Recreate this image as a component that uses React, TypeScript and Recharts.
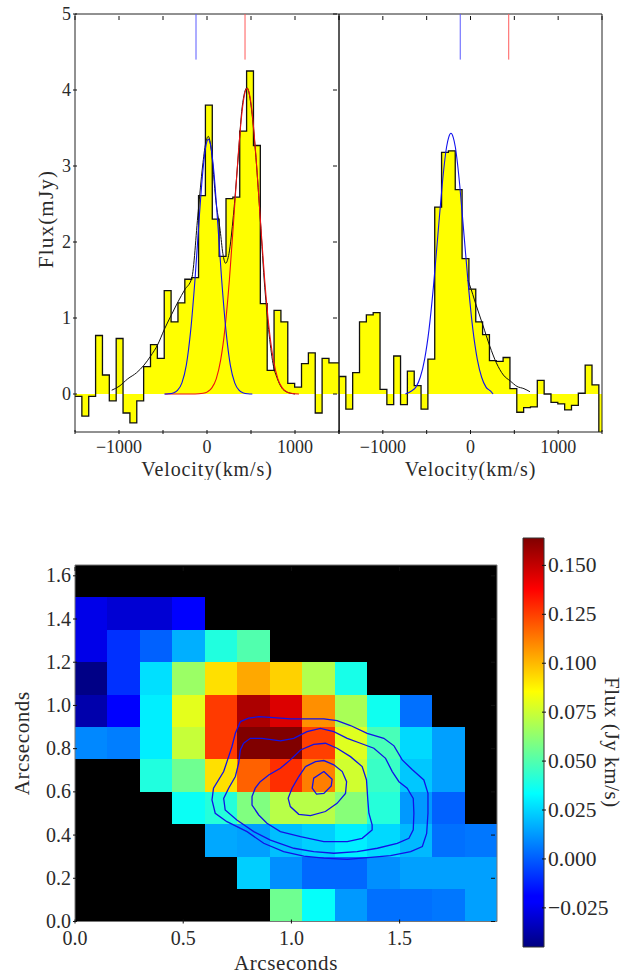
import { ComposedChart, Area, Line, XAxis, YAxis, ReferenceArea } from 'recharts'

const serif = '"Liberation Serif", serif'
const textColor = '#2a2a2a'

// bin left edges shared by both spectra (last entry closes the final bin)
const binEdges = [
  -1500, -1422, -1344, -1266, -1188, -1110, -1032, -954, -876, -798, -720, -642, -564, -486, -408, -330, -252, -174,
  -96, -18, 60, 138, 216, 294, 372, 450, 528, 606, 684, 762, 840, 918, 996, 1074, 1152, 1230, 1308, 1386, 1464, 1500,
]
const leftFlux = [
  -0.03, -0.29, -0.03, 0.77, 0.25, -0.09, 0.73, -0.25, -0.38, -0.09, 0.36, 0.65, 0.47, 1.36, 0.95, 1.2, 1.51, 1.53,
  2.61, 3.8, 2.3, 1.81, 2.57, 2.59, 3.46, 4.25, 3.27, 1.19, 0.31, 1.1, 0.95, 0.14, 0.09, 0.4, 0.54, -0.25, 0.47, 0.41,
  0.41, 0.41,
]
const rightFlux = [
  0.23, -0.2, 0.28, 0.95, 1.04, 1.07, 0.06, -0.14, 0.5, -0.14, 0.3, 0.11, -0.2, 0.46, 2.46, 3.18, 3.2, 2.69, 1.78,
  1.38, 0.95, 0.78, 0.44, 0.43, 0.48, 0.07, -0.24, -0.18, -0.17, 0.18, 0, -0.11, -0.13, -0.21, -0.15, 0.01, 0.38, 0.12,
  -0.6, -0.6,
]

const leftBins = binEdges.map((v, i) => ({ v, flux: leftFlux[i] }))
// the right spectrum comes up from below the axis at its first edge
const rightBins = [{ v: -1500, flux: -0.6 }, ...binEdges.map((v, i) => ({ v, flux: rightFlux[i] }))]

const toPoints = (list: number[][]) => list.map(([v, flux]) => ({ v, flux }))

const leftBlue = toPoints([
  [-485, 0], [-435, 0.003], [-385, 0.013], [-335, 0.048], [-285, 0.147], [-235, 0.38], [-185, 0.84], [-135, 1.53],
  [-85, 2.37], [-60, 2.76], [-35, 3.07], [-10, 3.28], [15, 3.35], [40, 3.28], [65, 3.07], [90, 2.76], [115, 2.37],
  [165, 1.53], [215, 0.84], [265, 0.38], [315, 0.147], [365, 0.048], [415, 0.013], [465, 0.003], [515, 0],
])
const leftRed = toPoints([
  [-477, 0], [-135, 0], [-45, 0.009], [5, 0.028], [55, 0.08], [105, 0.2], [155, 0.445], [205, 0.87], [255, 1.51],
  [305, 2.32], [355, 3.15], [380, 3.5], [405, 3.78], [430, 3.96], [455, 4.02], [480, 3.96], [505, 3.78], [530, 3.5],
  [555, 3.15], [605, 2.32], [655, 1.51], [705, 0.87], [755, 0.445], [805, 0.2], [855, 0.08], [905, 0.028], [955, 0.009],
  [1045, 0],
])
const leftBlack = toPoints([
  [-1083, 0.05], [-1000, 0.1], [-900, 0.2], [-800, 0.28], [-716, 0.38], [-640, 0.5], [-560, 0.65], [-485, 0.85],
  [-405, 1.04], [-326, 1.22], [-254, 1.37], [-174, 1.52], [-100, 2.4], [-50, 3.0], [-15, 3.3], [15, 3.39], [50, 3.2],
  [100, 2.55], [150, 2.15], [180, 1.85], [212, 1.72], [250, 1.85], [300, 2.35], [350, 3.05], [400, 3.78], [455, 4.03],
  [500, 3.8], [550, 3.2], [600, 2.4], [650, 1.5], [700, 0.85], [750, 0.4], [800, 0.2], [850, 0.08], [900, 0.03],
  [1000, 0],
])
const rightBlue = toPoints([
  [-743, 0], [-673, 0.04], [-623, 0.09], [-573, 0.22], [-523, 0.46], [-473, 0.85], [-423, 1.41], [-373, 2.08],
  [-323, 2.75], [-298, 3.03], [-273, 3.25], [-248, 3.38], [-223, 3.43], [-198, 3.38], [-173, 3.25], [-148, 3.03],
  [-123, 2.75], [-73, 2.08], [-23, 1.41], [27, 0.85], [77, 0.46], [127, 0.22], [177, 0.09], [227, 0.04], [257, 0],
])
const rightBlack = toPoints([
  [-30, 1.5], [-11, 1.44], [64, 1.17], [140, 0.91], [220, 0.63], [295, 0.41], [375, 0.25], [455, 0.17], [530, 0.1],
  [610, 0.07], [678, 0.03],
])

const leftBlueMark = toPoints([[-125, 4.4], [-125, 5]])
const leftRedMark = toPoints([[432, 4.4], [432, 5]])
const rightBlueMark = toPoints([[-117, 4.4], [-117, 5]])
const rightRedMark = toPoints([[436, 4.4], [436, 5]])

const velocityTicks = [-1500, -1000, -500, 0, 500, 1000, 1500]
const velocityLabels = [-1000, 0, 1000]
const fluxTicks = [0, 1, 2, 3, 4, 5]

// moment map, top row first, null = masked (black)
const colEdges = [0, 0.15, 0.3, 0.45, 0.6, 0.75, 0.9, 1.05, 1.2, 1.35, 1.5, 1.65, 1.8, 1.95]
const rowEdges = [1.65, 1.5, 1.35, 1.2, 1.05, 0.9, 0.75, 0.6, 0.45, 0.3, 0.15, 0]
const _ = null
const fluxRows = [
  [_, _, _, _, _, _, _, _, _, _, _, _, _],
  [-0.026, -0.03, -0.03, -0.022, _, _, _, _, _, _, _, _, _],
  [-0.026, -0.009, 0.001, 0.017, 0.04, 0.05, _, _, _, _, _, _, _],
  [-0.044, -0.009, 0.027, 0.065, 0.092, 0.1035, 0.095, 0.0695, 0.038, _, _, _, _],
  [-0.037, -0.022, 0.03, 0.08, 0.126, 0.155, 0.145, 0.1086, 0.068, 0.0365, 0.004, _, _],
  [0.009, 0.007, 0.03, 0.074, 0.126, 0.164, 0.164, 0.125, 0.079, 0.048, 0.0255, 0.014, _],
  [_, _, 0.04, 0.056, 0.092, 0.118, 0.1285, 0.112, 0.076, 0.045, 0.022, 0.014, _],
  [_, _, _, 0.0355, 0.041, 0.0595, 0.071, 0.071, 0.061, 0.041, 0.0125, 0.001, _],
  [_, _, _, _, 0.0156, 0.014, 0.0203, 0.0235, 0.03, 0.0255, 0.019, 0.004, 0.0055],
  [_, _, _, _, _, 0.0235, 0.0104, 0.0025, 0.0025, 0.0104, 0.014, 0.014, 0.014],
  [_, _, _, _, _, _, 0.056, 0.0344, 0.0125, 0.004, 0.004, 0.0055, 0.014],
]

const closeLoop = (list: number[][]) => [...list, list[0]].map(([x, y]) => ({ x, y }))

const contourA = closeLoop([
  [0.764, 0.925], [0.802, 0.941], [0.849, 0.948], [0.918, 0.944], [0.995, 0.938], [1.072, 0.938], [1.15, 0.938],
  [1.211, 0.93], [1.273, 0.907], [1.35, 0.871], [1.427, 0.848], [1.474, 0.813], [1.512, 0.748], [1.559, 0.702],
  [1.612, 0.655], [1.631, 0.593], [1.631, 0.501], [1.625, 0.408], [1.605, 0.347], [1.551, 0.323], [1.458, 0.305],
  [1.366, 0.297], [1.258, 0.288], [1.15, 0.293], [1.057, 0.303], [0.964, 0.323], [0.872, 0.362], [0.795, 0.416],
  [0.702, 0.462], [0.648, 0.501], [0.633, 0.563], [0.64, 0.617], [0.687, 0.694], [0.705, 0.748], [0.725, 0.809],
  [0.741, 0.871],
])
const contourB = closeLoop([
  [0.779, 0.825], [0.81, 0.848], [0.864, 0.848], [0.949, 0.836], [1.011, 0.848], [1.072, 0.879], [1.134, 0.894],
  [1.196, 0.879], [1.258, 0.848], [1.319, 0.825], [1.381, 0.802], [1.435, 0.755], [1.466, 0.694], [1.497, 0.647],
  [1.535, 0.617], [1.563, 0.57], [1.566, 0.501], [1.563, 0.424], [1.543, 0.385], [1.489, 0.362], [1.397, 0.339],
  [1.304, 0.323], [1.196, 0.316], [1.103, 0.323], [1.011, 0.339], [0.903, 0.377], [0.826, 0.416], [0.748, 0.47],
  [0.694, 0.516], [0.687, 0.57], [0.71, 0.617], [0.741, 0.671], [0.756, 0.732], [0.764, 0.794],
])
const contourC = closeLoop([
  [0.856, 0.647], [0.895, 0.678], [0.949, 0.709], [0.995, 0.748], [1.042, 0.794], [1.103, 0.82], [1.157, 0.825],
  [1.211, 0.802], [1.273, 0.763], [1.327, 0.717], [1.347, 0.655], [1.353, 0.563], [1.358, 0.501], [1.373, 0.447],
  [1.373, 0.424], [1.327, 0.385], [1.258, 0.37], [1.15, 0.37], [1.042, 0.393], [0.949, 0.416], [0.887, 0.455],
  [0.849, 0.493], [0.818, 0.539], [0.818, 0.578], [0.833, 0.617],
])
const contourD = closeLoop([
  [1.065, 0.717], [1.111, 0.74], [1.15, 0.745], [1.196, 0.725], [1.235, 0.694], [1.255, 0.647], [1.25, 0.593],
  [1.211, 0.547], [1.157, 0.509], [1.088, 0.49], [1.034, 0.496], [0.995, 0.532], [0.985, 0.57], [1.003, 0.617],
  [1.034, 0.671],
])
const contourE = closeLoop([
  [1.15, 0.694], [1.188, 0.658], [1.184, 0.627], [1.15, 0.593], [1.116, 0.59], [1.096, 0.617], [1.103, 0.663],
])
const contours = [contourA, contourB, contourC, contourD, contourE]

const arcXTicks = [0, 0.5, 1, 1.5]
const arcYTicks = [0, 0.2, 0.4, 0.6, 0.8, 1, 1.2, 1.4, 1.6]
const barTicks = [-0.025, 0, 0.025, 0.05, 0.075, 0.1, 0.125, 0.15]
const barMin = -0.045
const barMax = 0.164
const barExtent = [
  { x: 0, top: barMax },
  { x: 1, top: barMax },
]

// same colour map the picture uses
const jetStops: [number, number[]][] = [
  [0, [0, 0, 128]],
  [0.11, [0, 0, 255]],
  [0.125, [0, 0, 255]],
  [0.375, [0, 255, 255]],
  [0.5, [128, 255, 128]],
  [0.625, [255, 255, 0]],
  [0.875, [255, 0, 0]],
  [1, [128, 0, 0]],
]
const rgb = (c: number[]) => `rgb(${c.map((n) => Math.round(n)).join(',')})`
function jet(flux: number) {
  const t = Math.min(1, Math.max(0, (flux - barMin) / (barMax - barMin)))
  for (let i = 1; i < jetStops.length; i++) {
    const [t1, c1] = jetStops[i]
    const [t0, c0] = jetStops[i - 1]
    if (t <= t1) {
      const k = (t - t0) / (t1 - t0)
      return rgb(c0.map((n, j) => n + (c1[j] - n) * k))
    }
  }
  return rgb(jetStops[jetStops.length - 1][1])
}

const minus = (s: string) => s.replace('-', '\u2212')

function XTick({ x, y, payload, plotH, show, size, fmt }: any) {
  const label = show.includes(payload.value) ? minus(fmt(payload.value)) : ''
  return (
    <g>
      <line x1={x} x2={x} y1={y} y2={y - 4} stroke="#111" />
      <line x1={x} x2={x} y1={y - plotH} y2={y - plotH + 4} stroke="#111" />
      <text x={x} y={y + size + 1} textAnchor="middle" fontFamily={serif} fontSize={size} fill={textColor}>
        {label}
      </text>
    </g>
  )
}

function YTick({ x, y, payload, plotW, labelled, size, fmt }: any) {
  return (
    <g>
      <line x1={x} x2={x + 4} y1={y} y2={y} stroke="#111" />
      <line x1={x + plotW} x2={x + plotW - 4} y1={y} y2={y} stroke="#111" />
      {labelled && (
        <text x={x - 2} y={y + size * 0.33} textAnchor="end" fontFamily={serif} fontSize={size} fill={textColor}>
          {fmt(payload.value)}
        </text>
      )}
    </g>
  )
}

function SpectrumPanel({ left, width, marginLeft, marginRight, bins, curves, blueMark, redMark, yLabelled }: any) {
  return (
    <div style={{ position: 'absolute', left, top: 0 }}>
      <ComposedChart
        width={width}
        height={480}
        margin={{ top: 14, right: marginRight, bottom: 0, left: marginLeft }}
      >
        <XAxis
          dataKey="v"
          type="number"
          domain={[-1500, 1500]}
          ticks={velocityTicks}
          interval={0}
          allowDataOverflow
          axisLine={false}
          tickLine={false}
          tickSize={0}
          height={48}
          tick={(p: any) => <XTick {...p} plotH={418} show={velocityLabels} size={18} fmt={String} />}
          label={{
            value: 'Velocity(km/s)',
            position: 'insideBottom',
            offset: 4,
            fontFamily: serif,
            fontSize: 20,
            fill: textColor,
            letterSpacing: 0.9,
          }}
        />
        <YAxis
          dataKey="flux"
          type="number"
          domain={[-0.5, 5]}
          ticks={fluxTicks}
          interval={0}
          allowDataOverflow
          axisLine={false}
          tickLine={false}
          tickSize={0}
          width={yLabelled ? 75 : 0}
          tick={(p: any) => <YTick {...p} plotW={yLabelled ? 264 : 263} labelled={yLabelled} size={18} fmt={String} />}
          label={
            yLabelled
              ? {
                  value: 'Flux(mJy)',
                  angle: -90,
                  position: 'insideLeft',
                  offset: 46,
                  dy: -4,
                  fontFamily: serif,
                  fontSize: 21,
                  fill: textColor,
                  letterSpacing: 1.2,
                  style: { textAnchor: 'middle' },
                }
              : undefined
          }
        />
        <Area
          data={bins}
          dataKey="flux"
          type="stepAfter"
          baseValue={0}
          fill="#ffff00"
          fillOpacity={1}
          stroke="#111"
          strokeWidth={1.3}
          dot={false}
          isAnimationActive={false}
        />
        {curves.map((c: any, i: number) => (
          <Line
            key={i}
            data={c.points}
            dataKey="flux"
            type="monotone"
            stroke={c.color}
            strokeWidth={c.width}
            dot={false}
            isAnimationActive={false}
          />
        ))}
        <Line data={blueMark} dataKey="flux" stroke="#5a5aff" strokeWidth={1} dot={false} isAnimationActive={false} />
        <Line data={redMark} dataKey="flux" stroke="#ff5a5a" strokeWidth={1} dot={false} isAnimationActive={false} />
        <ReferenceArea x1={-1500} x2={1500} y1={-0.5} y2={5} fill="none" stroke="#222" strokeWidth={1} />
      </ComposedChart>
    </div>
  )
}

function FluxMap() {
  return (
    <div style={{ position: 'absolute', left: 0, top: 500 }}>
      <ComposedChart width={505} height={474} margin={{ top: 65, right: 8, bottom: 0, left: 0 }}>
        <XAxis
          dataKey="x"
          type="number"
          domain={[0, 1.95]}
          ticks={arcXTicks}
          interval={0}
          allowDataOverflow
          axisLine={false}
          tickLine={false}
          tickSize={0}
          height={52.5}
          tick={(p: any) => (
            <XTick {...p} plotH={356.5} show={arcXTicks} size={20} fmt={(v: number) => v.toFixed(1)} />
          )}
          label={{
            value: 'Arcseconds',
            position: 'insideBottom',
            offset: 4,
            fontFamily: serif,
            fontSize: 21,
            fill: textColor,
            letterSpacing: 0.6,
          }}
        />
        <YAxis
          dataKey="y"
          type="number"
          domain={[0, 1.65]}
          ticks={arcYTicks}
          interval={0}
          allowDataOverflow
          axisLine={false}
          tickLine={false}
          tickSize={0}
          width={75}
          tick={(p: any) => <YTick {...p} plotW={422} labelled size={20} fmt={(v: number) => v.toFixed(1)} />}
          label={{
            value: 'Arcseconds',
            angle: -90,
            position: 'insideLeft',
            offset: 22,
            fontFamily: serif,
            fontSize: 21,
            fill: textColor,
            letterSpacing: 0.6,
            style: { textAnchor: 'middle' },
          }}
        />
        {fluxRows.flatMap((row, r) =>
          row.map((f, c) => (
            <ReferenceArea
              key={`${r}-${c}`}
              x1={colEdges[c]}
              x2={colEdges[c + 1]}
              y1={rowEdges[r + 1]}
              y2={rowEdges[r]}
              fill={f === null ? '#000' : jet(f)}
              fillOpacity={1}
              shapeRendering="crispEdges"
            />
          )),
        )}
        {contours.map((points, i) => (
          <Line
            key={i}
            data={points}
            dataKey="y"
            type="linear"
            stroke="#1212e6"
            strokeWidth={1.3}
            dot={false}
            isAnimationActive={false}
          />
        ))}
        <ReferenceArea x1={0} x2={1.95} y1={0} y2={1.65} fill="none" stroke="#777" strokeWidth={1} />
      </ComposedChart>
    </div>
  )
}

function ColorBar() {
  return (
    <div style={{ position: 'absolute', left: 510, top: 500 }}>
      <ComposedChart width={130} height={474} margin={{ top: 38, right: 0, bottom: 27, left: 13 }}>
        <defs>
          <linearGradient id="jetBar" x1="0" y1="1" x2="0" y2="0">
            {jetStops.map(([t, c]) => (
              <stop key={t} offset={t} stopColor={rgb(c)} />
            ))}
          </linearGradient>
        </defs>
        <XAxis type="number" dataKey="x" domain={[0, 1]} allowDataOverflow hide />
        <YAxis
          orientation="right"
          type="number"
          domain={[barMin, barMax]}
          ticks={barTicks}
          interval={0}
          allowDataOverflow
          axisLine={false}
          tickLine={false}
          tickSize={0}
          width={96}
          tick={(p: any) => (
            <g>
              <line x1={p.x - 4} x2={p.x} y1={p.y} y2={p.y} stroke="#111" />
              <text x={p.x + 2} y={p.y + 7} fontFamily={serif} fontSize={21.5} fill={textColor}>
                {minus(p.payload.value.toFixed(3))}
              </text>
            </g>
          )}
          label={{
            value: 'Flux (Jy km/s)',
            angle: 90,
            position: 'insideRight',
            offset: 28,
            fontFamily: serif,
            fontSize: 21,
            fill: textColor,
            letterSpacing: 0.6,
            style: { textAnchor: 'middle' },
          }}
        />
        <Area
          data={barExtent}
          dataKey="top"
          type="linear"
          baseValue={barMin}
          fill="url(#jetBar)"
          fillOpacity={1}
          stroke="none"
          dot={false}
          isAnimationActive={false}
        />
        <ReferenceArea x1={0} x2={1} y1={barMin} y2={barMax} fill="none" stroke="#333" />
      </ComposedChart>
    </div>
  )
}

export default function App() {
  return (
    <div style={{ position: 'absolute', left: 0, top: 0, width: 640, height: 974, background: '#fff' }}>
      <SpectrumPanel
        left={0}
        width={345}
        marginLeft={0}
        marginRight={6}
        bins={leftBins}
        curves={[
          { points: leftBlack, color: '#111', width: 1 },
          { points: leftRed, color: '#ee1111', width: 1.1 },
          { points: leftBlue, color: '#1111ee', width: 1.1 },
        ]}
        blueMark={leftBlueMark}
        redMark={leftRedMark}
        yLabelled
      />
      <SpectrumPanel
        left={330}
        width={280}
        marginLeft={9}
        marginRight={8}
        bins={rightBins}
        curves={[
          { points: rightBlack, color: '#111', width: 1 },
          { points: rightBlue, color: '#1111ee', width: 1.1 },
        ]}
        blueMark={rightBlueMark}
        redMark={rightRedMark}
        yLabelled={false}
      />
      <FluxMap />
      <ColorBar />
    </div>
  )
}
